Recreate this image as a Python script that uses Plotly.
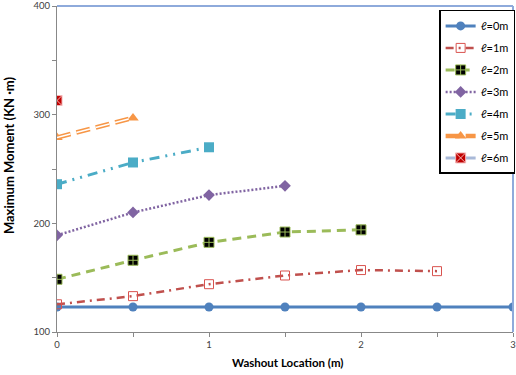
import plotly.graph_objects as go

# Washout location (m) and maximum moment (kN·m) for each washout length ℓ
x_l0 = [0, 0.5, 1, 1.5, 2, 2.5, 3]
m_l0 = [123, 123, 123, 123, 123, 123, 123]
x_l1 = [0, 0.5, 1, 1.5, 2, 2.5]
m_l1 = [125.5, 133, 144, 152, 157, 156]
x_l2 = [0, 0.5, 1, 1.5, 2]
m_l2 = [148.5, 166, 182.5, 192, 194]
x_l3 = [0, 0.5, 1, 1.5]
m_l3 = [189, 210, 226, 234.5]
x_l4 = [0, 0.5, 1]
m_l4 = [236, 256, 270]
x_l5 = [0, 0.5]
m_l5 = [279, 297]
x_l6 = [0]
m_l6 = [313]

labels = ["ℓ=0m", "ℓ=1m", "ℓ=2m", "ℓ=3m", "ℓ=4m", "ℓ=5m", "ℓ=6m"]
x_title = "Washout Location (m)"
y_title = "Maximum Moment (KN ·m)"

FONT = "Lato, Noto Sans, sans-serif"

fig = go.Figure()

fig.add_trace(go.Scatter(
    x=x_l0, y=m_l0, name=labels[0], mode="lines+markers", legendgroup="g0",
    line=dict(color="#4F81BD", width=3),
    marker=dict(symbol="circle", size=9, color="#4F81BD")))
fig.add_trace(go.Scatter(
    x=x_l1, y=m_l1, name=labels[1], mode="lines+markers", legendgroup="g1",
    line=dict(color="#C0504D", width=2.5, dash="8px,5px,2px,5px"),
    marker=dict(symbol="square-open", size=9, color="#D9534F", line=dict(width=1))))
fig.add_trace(go.Scatter(
    x=x_l2, y=m_l2, name=labels[2], mode="lines+markers", legendgroup="g2",
    line=dict(color="#9BBB59", width=3, dash="9px,6px"),
    marker=dict(symbol="square-cross", size=10, color="#000000",
                line=dict(color="#9BBB59", width=1))))
fig.add_trace(go.Scatter(
    x=x_l3, y=m_l3, name=labels[3], mode="lines+markers", legendgroup="g3",
    line=dict(color="#8064A2", width=2.5, dash="2px,2px"),
    marker=dict(symbol="diamond", size=9, color="#8064A2")))
fig.add_trace(go.Scatter(
    x=x_l4, y=m_l4, name=labels[4], mode="lines+markers", legendgroup="g4",
    line=dict(color="#4BACC6", width=3, dash="10px,6px,2px,6px,2px,6px"),
    marker=dict(symbol="square", size=10, color="#4BACC6")))
fig.add_trace(go.Scatter(
    x=x_l5, y=m_l5, name=labels[5], mode="lines+markers", legendgroup="g5",
    line=dict(color="#F79646", width=4.5, dash="14px,6px"),
    marker=dict(symbol="triangle-up", size=10, color="#F79646")))
# hollow centre of the double orange line
fig.add_trace(go.Scatter(
    x=x_l5, y=m_l5, mode="lines", legendgroup="g5", showlegend=False,
    line=dict(color="#FFFFFF", width=1.5, dash="14px,6px"), hoverinfo="skip"))
fig.add_trace(go.Scatter(
    x=x_l6, y=m_l6, name=labels[6], mode="lines+markers", legendgroup="g6",
    line=dict(color="#A9B9D8", width=3),
    marker=dict(symbol="square-x", size=10, color="#C00000",
                line=dict(color="#F4B6B6", width=1))))

axis_font = dict(family=FONT, size=9.5, color="#404040")

fig.update_layout(
    width=516, height=375,
    margin=dict(l=57, r=1, t=6, b=43),
    paper_bgcolor="white", plot_bgcolor="white",
    font=dict(family=FONT),
    showlegend=True,
    legend=dict(
        x=0.838, y=0.988, xanchor="left", yanchor="top",
        bordercolor="#000000", borderwidth=1.5, bgcolor="white",
        font=dict(family=FONT, size=11, color="#000000"),
        traceorder="grouped", tracegroupgap=3, itemwidth=30),
    xaxis=dict(
        range=[0, 3], tickvals=[0, 1, 2, 3], ticks="outside", ticklen=4,
        tickcolor="#888888", showline=True, linecolor="#888888", linewidth=1,
        showgrid=False, zeroline=False, tickfont=axis_font,
        minor=dict(dtick=0.5, ticks="outside", ticklen=4, tickcolor="#888888")),
    yaxis=dict(
        range=[100, 400], tickvals=[100, 200, 300, 400], ticks="outside", ticklen=4,
        tickcolor="#888888", showline=True, linecolor="#888888", linewidth=1,
        showgrid=False, zeroline=False, tickfont=axis_font,
        minor=dict(dtick=50, ticks="outside", ticklen=4, tickcolor="#888888")),
    annotations=[
        dict(text="<b>" + x_title + "</b>", xref="paper", yref="paper",
             x=0.5066, y=-0.095, xanchor="center", yanchor="middle",
             showarrow=False, font=dict(family=FONT, size=11.5, color="#000000")),
        dict(text="<b>" + y_title + "</b>", xref="paper", yref="paper",
             x=-0.105, y=0.543, xanchor="center", yanchor="middle",
             textangle=-90, showarrow=False,
             font=dict(family=FONT, size=13, color="#000000")),
    ],
    shapes=[
        dict(type="line", xref="paper", yref="paper", x0=0, x1=1, y0=1, y1=1,
             line=dict(color="#8EAADB", width=2)),
        dict(type="line", xref="paper", yref="paper", x0=1, x1=1, y0=0, y1=1,
             line=dict(color="#8EAADB", width=2)),
    ],
)

fig.write_html("out.html")
